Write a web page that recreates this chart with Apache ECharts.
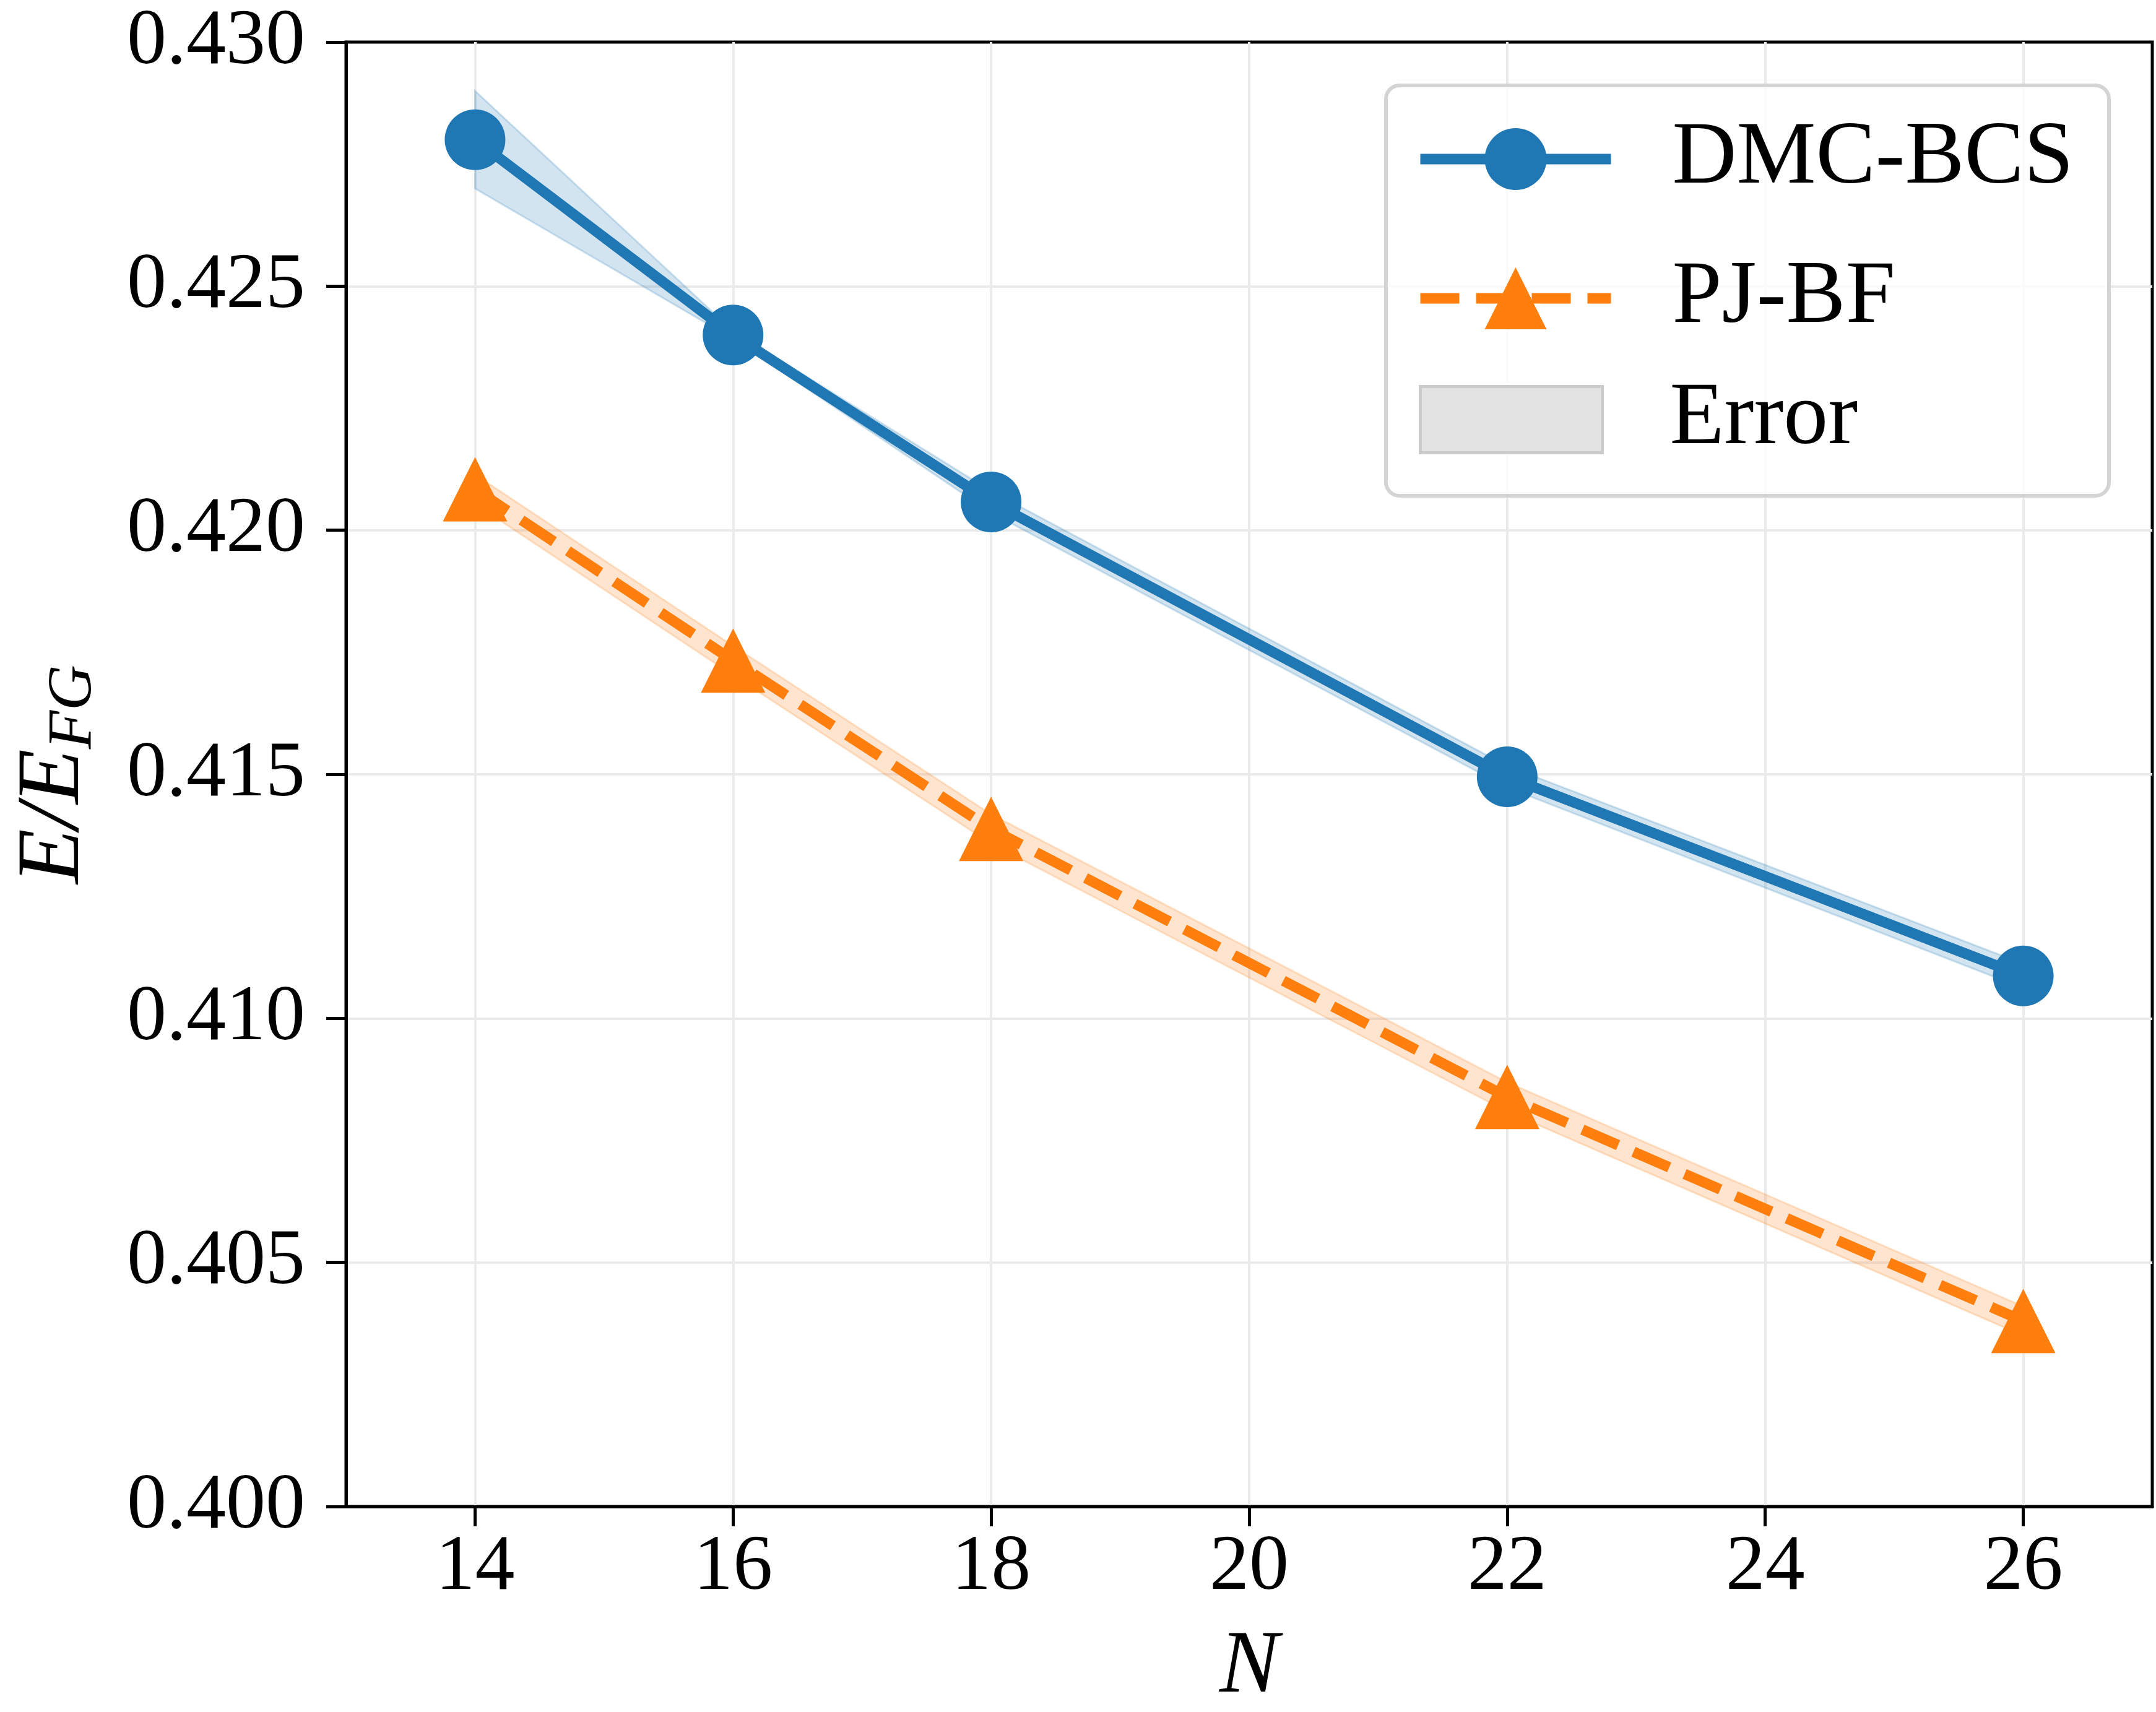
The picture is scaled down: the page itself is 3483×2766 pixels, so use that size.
<!DOCTYPE html>
<html>
<head>
<meta charset="utf-8">
<title>E/E_FG vs N</title>
<script src="https://cdn.jsdelivr.net/npm/echarts@6/dist/echarts.min.js"></script>
<style>
    html, body { margin: 0; padding: 0; background: #fff; }
    #main { width: 3483px; height: 2766px; }
</style>
</head>
<body>
<div id="main"></div>
<script>
// 粒子数 N
var nValues = [14, 16, 18, 22, 26];
// DMC-BCS 能量及误差
var dmcBcs = [0.42800, 0.42400, 0.42058, 0.41495, 0.41087];
var dmcErr = [0.00100, 0.00008, 0.00022, 0.00022, 0.00025];
// PJ-BF 能量及误差
var pjBf = [0.42084, 0.41733, 0.41388, 0.40839, 0.40380];
var pjErr = [0.00030, 0.00030, 0.00030, 0.00030, 0.00030];
// 坐标刻度
var xTicks = [14, 16, 18, 20, 22, 24, 26];
var yTicks = [0.400, 0.405, 0.410, 0.415, 0.420, 0.425, 0.430];

var FONT = 'Liberation Serif';
var BLUE = '#1f77b4', ORANGE = '#ff7f0e';
var DASH = [63, 27];

function pairs(xs, ys) {
    return xs.map(function (x, i) { return [x, ys[i]]; });
}
function band(xs, ys, err) {
    return xs.map(function (x, i) { return [x, ys[i] - err[i], ys[i] + err[i]]; });
}
// 误差带：只在第一个数据项时画整块多边形
function renderBand(color) {
    return function (params, api) {
        if (params.dataIndex !== 0) return null;
        var n = params.dataInsideLength;
        var upper = [], lower = [];
        for (var i = 0; i < n; i++) {
            upper.push(api.coord([api.value(0, i), api.value(2, i)]));
            lower.unshift(api.coord([api.value(0, i), api.value(1, i)]));
        }
        return {
            type: 'polygon',
            shape: { points: upper.concat(lower) },
            style: { fill: color, stroke: color, lineWidth: 3 }
        };
    };
}

var myChart = echarts.init(document.getElementById('main'));
var option = {
    animation: false,
    backgroundColor: '#fff',
    grid: {
        left: 559, top: 68, right: 6, bottom: 332,
        show: true, borderColor: '#000', borderWidth: 5,
        containLabel: false, outerBoundsMode: 'none'
    },
    graphic: [{
        // 图例外框
        type: 'rect', z: 3,
        shape: { x: 2239, y: 138, width: 1168, height: 663, r: 22 },
        style: { fill: 'rgba(255,255,255,0.8)', stroke: '#d4d4d4', lineWidth: 6 }
    }],
    legend: [{
        orient: 'vertical', left: 2286, top: 185, padding: 0, z: 4,
        itemWidth: 308, itemHeight: 125, itemGap: 81,
        selectedMode: false,
        data: [
            { name: 'DMC-BCS', lineStyle: { width: 17, color: BLUE, type: 'solid' } },
            { name: 'PJ-BF', lineStyle: { width: 17, color: ORANGE, type: DASH, dashOffset: 0 } }
        ],
        textStyle: { fontFamily: FONT, fontSize: 144, color: '#000', lineHeight: 125, padding: [0, 0, 0, 94] }
    }, {
        orient: 'vertical', left: 2292, top: 606, padding: 0, z: 4,
        itemWidth: 294, itemHeight: 107,
        selectedMode: false,
        data: [{ name: 'Error', icon: 'rect', itemStyle: { color: '#e3e3e3', borderColor: '#cbcbcb', borderWidth: 5 } }],
        textStyle: { fontFamily: FONT, fontSize: 144, color: '#000', lineHeight: 107, padding: [0, 0, 0, 104] }
    }],
    xAxis: {
        type: 'value', min: 13, max: 27,
        name: 'N', nameLocation: 'middle', nameGap: 189,
        nameTextStyle: { fontFamily: FONT, fontStyle: 'italic', fontSize: 144, color: '#000' },
        axisLine: { show: true, lineStyle: { color: '#000', width: 5 } },
        axisTick: { show: true, customValues: xTicks, length: 32, lineStyle: { color: '#000', width: 5 } },
        axisLabel: { customValues: xTicks, margin: 35, fontFamily: FONT, fontSize: 128, color: '#000' },
        splitLine: { show: true, lineStyle: { color: '#ebebeb', width: 4 } }
    },
    yAxis: {
        type: 'value', min: 0.400, max: 0.430, interval: 0.005,
        name: '{i|E}{i|/}{i|E}{s|FG}', nameLocation: 'middle', nameGap: 388, nameRotate: 90,
        nameTextStyle: {
            fontFamily: FONT, fontStyle: 'italic', fontSize: 145, color: '#000',
            rich: {
                i: { fontFamily: FONT, fontStyle: 'italic', fontSize: 145, color: '#000', verticalAlign: 'bottom', padding: [0, 0, 11, 0] },
                s: { fontFamily: FONT, fontStyle: 'italic', fontSize: 102, color: '#000', verticalAlign: 'bottom' }
            }
        },
        axisLine: { show: true, lineStyle: { color: '#000', width: 5 } },
        axisTick: { show: true, customValues: yTicks, length: 32, lineStyle: { color: '#000', width: 5 } },
        axisLabel: {
            customValues: yTicks, margin: 66, fontFamily: FONT, fontSize: 128, color: '#000',
            formatter: function (v) { return v.toFixed(3); }
        },
        splitLine: { show: true, showMinLine: false, showMaxLine: false, lineStyle: { color: '#ebebeb', width: 4 } }
    },
    series: [{
        name: 'Error', type: 'custom', z: 1,
        renderItem: renderBand('rgba(31,119,180,0.2)'),
        encode: { x: 0, y: [1, 2] },
        data: band(nValues, dmcBcs, dmcErr)
    }, {
        name: 'Error', type: 'custom', z: 1,
        renderItem: renderBand('rgba(255,127,14,0.2)'),
        encode: { x: 0, y: [1, 2] },
        data: band(nValues, pjBf, pjErr)
    }, {
        name: 'DMC-BCS', type: 'line', z: 3,
        data: pairs(nValues, dmcBcs),
        symbol: 'circle', symbolSize: 98, showAllSymbol: true,
        itemStyle: { color: BLUE },
        lineStyle: { color: BLUE, width: 17 }
    }, {
        name: 'PJ-BF', type: 'line', z: 3,
        data: pairs(nValues, pjBf),
        symbol: 'triangle', symbolSize: 104, showAllSymbol: true,
        itemStyle: { color: ORANGE },
        lineStyle: { color: ORANGE, width: 17, type: DASH, cap: 'butt' }
    }]
};
myChart.setOption(option, true);
</script>
</body>
</html>
